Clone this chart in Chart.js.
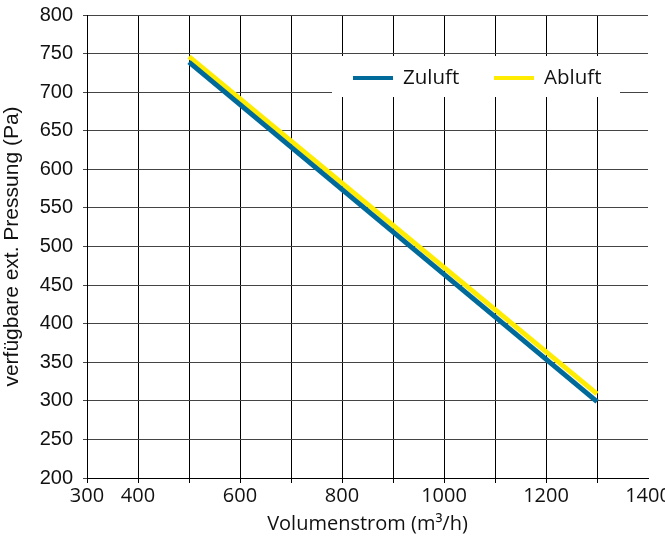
<!DOCTYPE html>
<html>
<head>
<meta charset="utf-8">
<script src="https://cdn.jsdelivr.net/npm/chart.js@4.4.1/dist/chart.umd.min.js"></script>
<style>
  html, body { margin: 0; padding: 0; background: #fff; }
  #wrap { width: 665px; height: 537px; }
</style>
</head>
<body>
<div id="wrap"><canvas id="kennlinie"></canvas></div>
<script>
// Werte
const volumenstrom = [500, 1300];
const zuluft = [739, 299];
const abluft = [746, 309];
const xBeschriftet = [300, 400, 600, 800, 1000, 1200, 1400];

// Legende mit weissem Kasten im Diagramm
const legendeKasten = {
    id: 'legendeKasten',
    afterDraw(chart) {
        const ctx = chart.ctx;
        ctx.save();
        ctx.fillStyle = '#fff';
        ctx.fillRect(332, 56, 288, 41);
        ctx.font = '20.5px "Open Sans"';
        ctx.textBaseline = 'middle';
        let x = 353;
        chart.data.datasets.forEach(function(ds) {
            ctx.strokeStyle = ds.borderColor;
            ctx.lineWidth = 4;
            ctx.beginPath();
            ctx.moveTo(x, 78);
            ctx.lineTo(x + 40, 78);
            ctx.stroke();
            ctx.fillStyle = '#111';
            ctx.fillText(ds.label, x + 50, 78);
            x += 141;
        });
        ctx.restore();
    }
};

document.addEventListener('DOMContentLoaded', function() {
    const ctx = document.getElementById('kennlinie').getContext('2d');
    new Chart(ctx, {
        type: 'line',
        data: {
            datasets: [{
                label: 'Zuluft',
                data: volumenstrom.map((v, i) => ({ x: v, y: zuluft[i] })),
                borderColor: '#006a9a',
                borderWidth: 5,
                pointRadius: 0,
                fill: false
            }, {
                label: 'Abluft',
                data: volumenstrom.map((v, i) => ({ x: v, y: abluft[i] })),
                borderColor: '#ffec00',
                borderWidth: 5,
                pointRadius: 0,
                fill: false
            }]
        },
        options: {
            responsive: true,
            maintainAspectRatio: false,
            animation: false,
            layout: { padding: { left: 0, right: 17, top: 15, bottom: 0 } },
            plugins: {
                legend: { display: false },
                tooltip: { enabled: false }
            },
            scales: {
                x: {
                    type: 'linear',
                    min: 300,
                    max: 1400,
                    ticks: {
                        stepSize: 100,
                        maxRotation: 0,
                        autoSkip: false,
                        color: '#111',
                        padding: 1,
                        font: { family: '"Open Sans"', size: 20 },
                        callback: v => xBeschriftet.includes(v) ? v : ''
                    },
                    grid: {
                        color: c => c.tick && c.tick.value === 1400 ? 'rgba(0,0,0,0)' : '#000',
                        lineWidth: 1,
                        tickLength: 5
                    },
                    border: { color: '#000', width: 1 },
                    title: {
                        display: true,
                        text: 'Volumenstrom (m³/h)',
                        color: '#111',
                        font: { family: '"Open Sans"', size: 20 },
                        padding: { top: 0, bottom: 1 }
                    },
                    afterFit: s => { s.height = 59; s.paddingLeft = 0; s.paddingRight = 0; }
                },
                y: {
                    min: 200,
                    max: 800,
                    ticks: {
                        stepSize: 50,
                        color: '#111',
                        padding: 10,
                        font: { family: '"Liberation Sans"', size: 20 }
                    },
                    grid: {
                        color: '#444',
                        lineWidth: 1,
                        tickLength: 4
                    },
                    border: { color: '#000', width: 1 },
                    title: {
                        display: true,
                        text: 'verfügbare ext. Pressung (Pa)',
                        color: '#111',
                        font: { family: '"Liberation Sans"', size: 21 },
                        padding: { top: 0, bottom: 0 }
                    },
                    afterFit: s => { s.width = 87; s.paddingTop = 0; s.paddingBottom = 0; }
                }
            }
        },
        plugins: [legendeKasten]
    });
});
</script>
</body>
</html>
